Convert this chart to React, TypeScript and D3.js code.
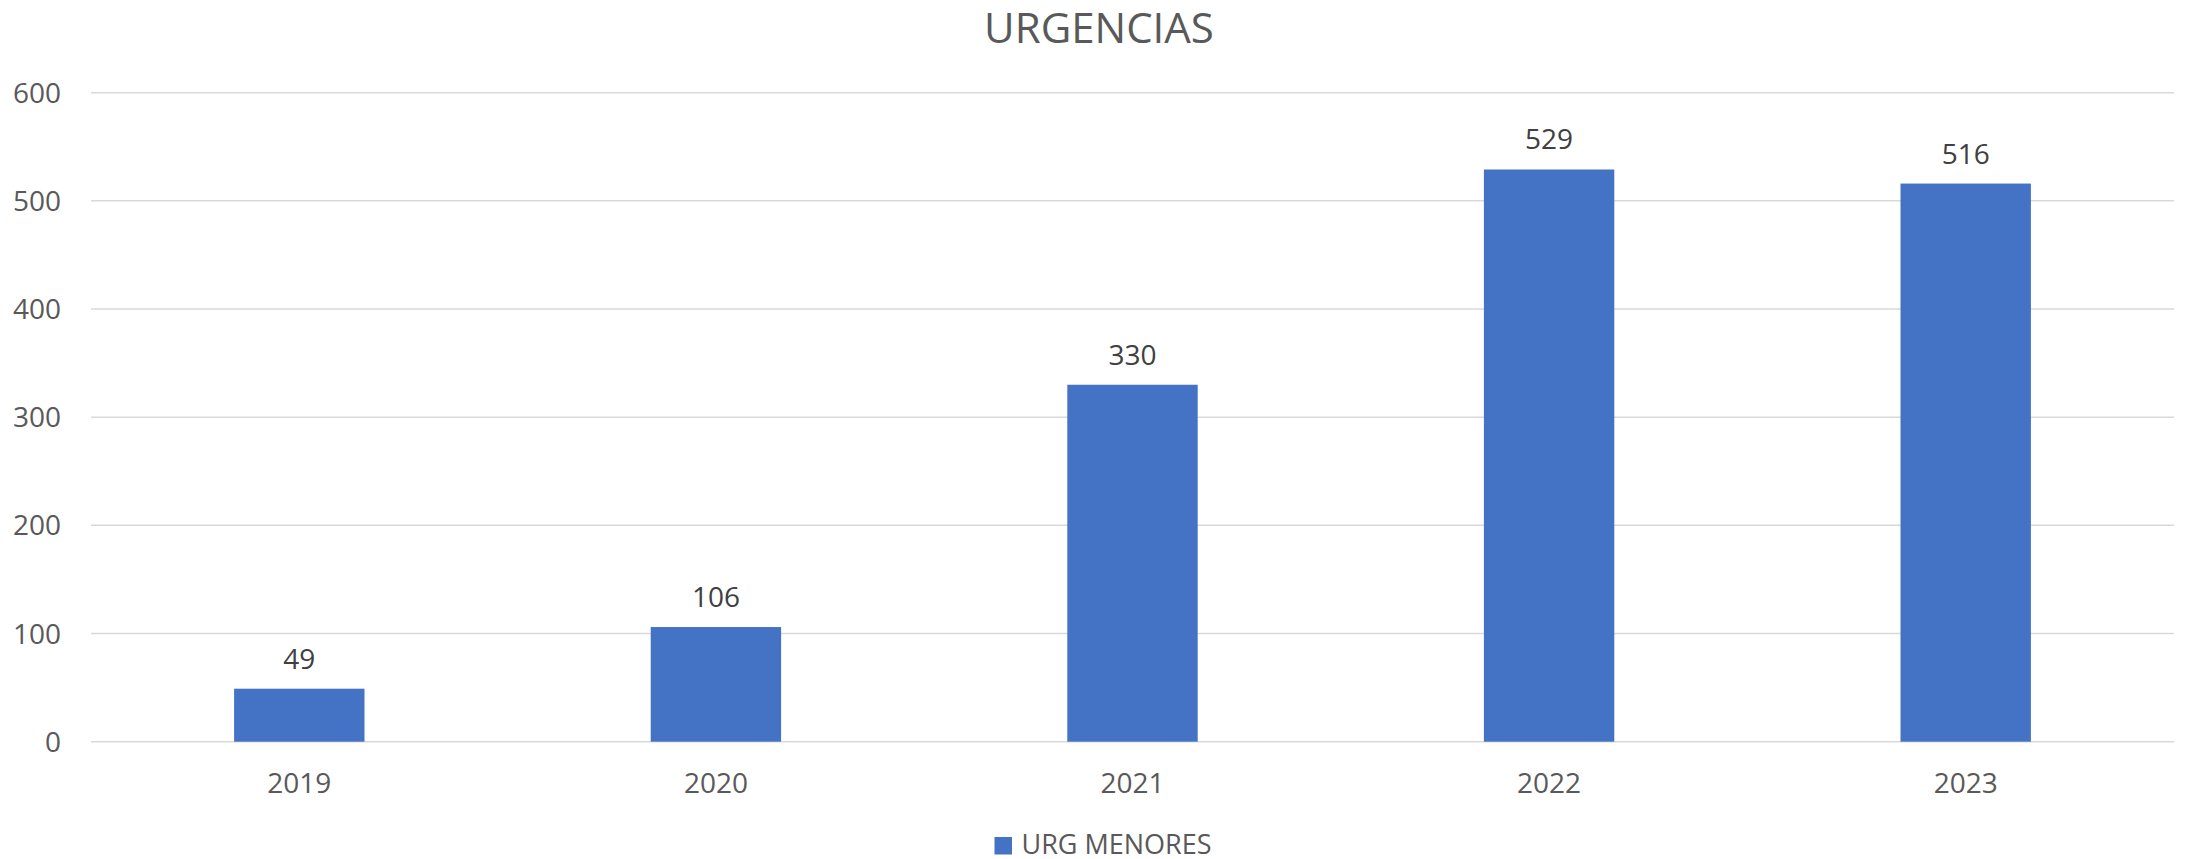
import React from "react";
import * as d3 from "d3";

const years: string[] = ["2019", "2020", "2021", "2022", "2023"];
const urgMenores: number[] = [49, 106, 330, 529, 516];
const yTicks: number[] = [0, 100, 200, 300, 400, 500, 600];
const chartTitle = "URGENCIAS";
const seriesName = "URG MENORES";

const W = 2186;
const H = 859;
const FONT = "'Open Sans', 'Noto Sans', sans-serif";

export default function App() {
  const plot = { left: 91, right: 2174, top: 92.7, bottom: 741.7 };

  const x = d3
    .scaleBand<string>()
    .domain(years)
    .range([plot.left, plot.right])
    .paddingInner(0.687)
    .paddingOuter(0.3435);

  const y = d3.scaleLinear().domain([0, 600]).range([plot.bottom, plot.top]);

  return (
    <svg
      width={W}
      height={H}
      viewBox={`0 0 ${W} ${H}`}
      style={{ position: "fixed", left: 0, top: 0, background: "#ffffff" }}
    >
      <rect x={0} y={0} width={W} height={H} fill="#ffffff" />
      <text
        x={1099}
        y={43}
        textAnchor="middle"
        fontFamily={FONT}
        fontSize={42}
        fill="#595959"
      >
        {chartTitle}
      </text>

      {yTicks.map((t) => (
        <g key={t}>
          <line
            x1={plot.left}
            x2={plot.right}
            y1={y(t)}
            y2={y(t)}
            stroke="#d9d9d9"
            strokeWidth={1.5}
          />
          <text
            x={61}
            y={y(t) + 10}
            textAnchor="end"
            fontFamily={FONT}
            fontSize={28}
            fill="#595959"
          >
            {t}
          </text>
        </g>
      ))}

      {years.map((yr, i) => {
        const v = urgMenores[i];
        const bx = x(yr) as number;
        const bw = x.bandwidth();
        return (
          <g key={yr}>
            <rect x={bx} y={y(v)} width={bw} height={y(0) - y(v)} fill="#4472c4" />
            <text
              x={bx + bw / 2}
              y={y(v) - 20}
              textAnchor="middle"
              fontFamily={FONT}
              fontSize={28}
              fill="#404040"
            >
              {v}
            </text>
            <text
              x={bx + bw / 2}
              y={793}
              textAnchor="middle"
              fontFamily={FONT}
              fontSize={28}
              fill="#595959"
            >
              {yr}
            </text>
          </g>
        );
      })}

      <rect x={994.5} y={837} width={17.5} height={17.5} fill="#4472c4" />
      <text x={1021.5} y={854} fontFamily={FONT} fontSize={27} fill="#595959">
        {seriesName}
      </text>
    </svg>
  );
}
